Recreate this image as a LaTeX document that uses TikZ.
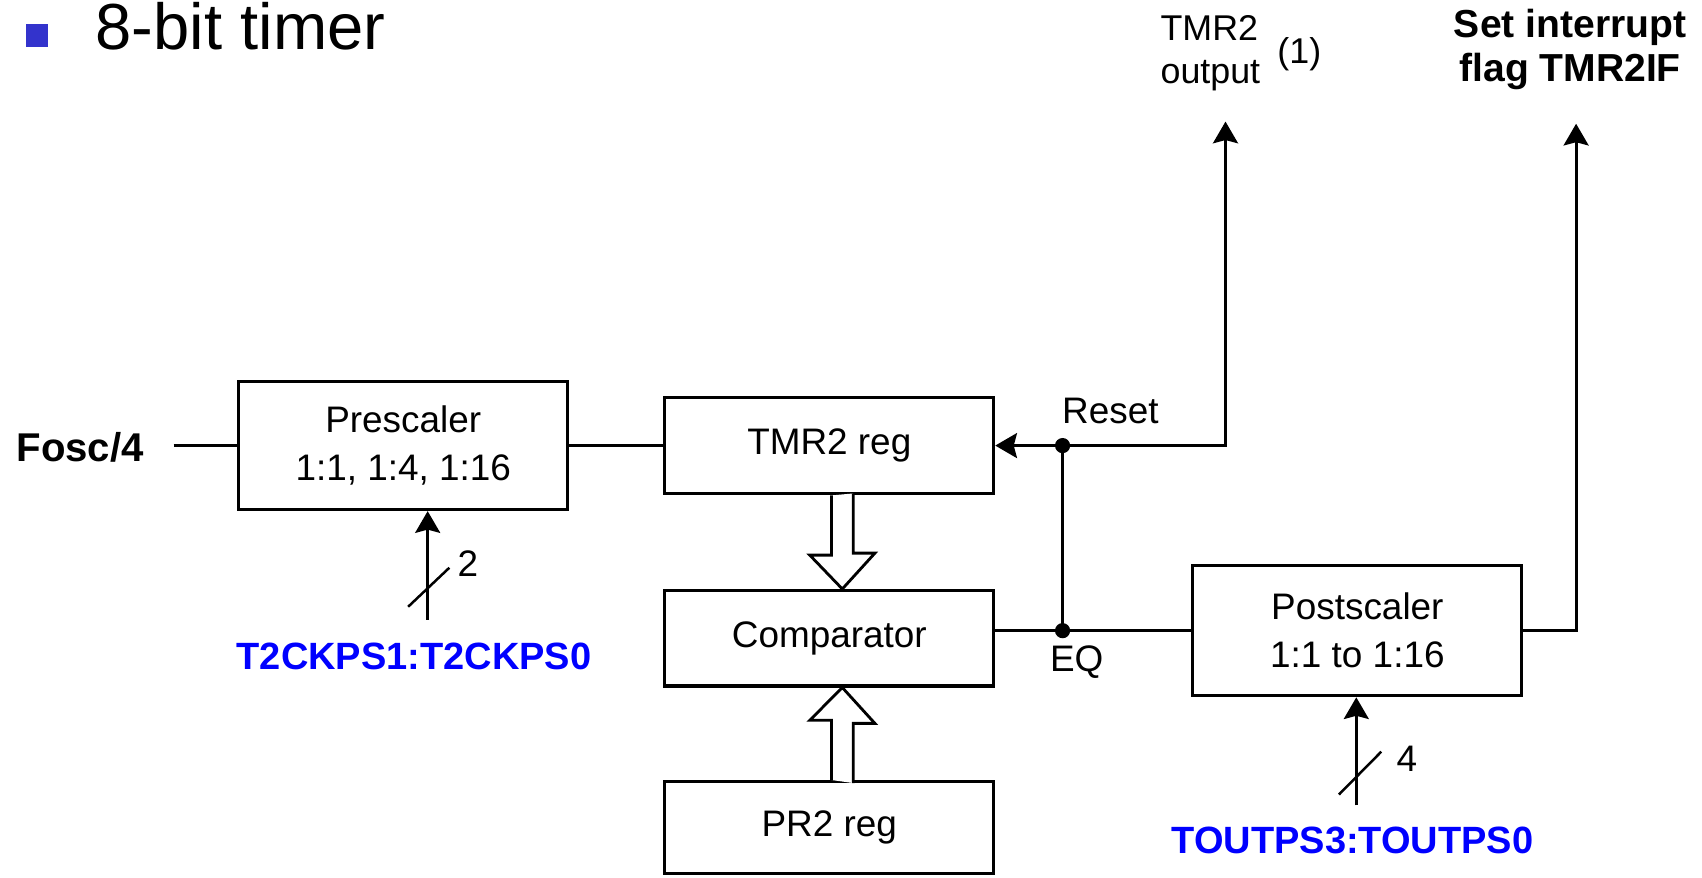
\documentclass[tikz,border=0pt]{standalone}
\usepackage{fontspec}
\setmainfont{Liberation Sans}
\usetikzlibrary{arrows.meta,calc}
\definecolor{bulletblue}{RGB}{51,51,204}
\definecolor{sigblue}{RGB}{0,0,255}
\tikzset{
 blk/.style={draw, line width=2.8pt, minimum width=303pt, inner sep=0pt, align=center, font=\fontsize{34}{44}\selectfont},
 wire/.style={line width=2.6pt},
 arr/.style={wire, -{Stealth[width=23pt,length=20pt,inset=3pt]}},
 busslash/.style={line width=2.3pt},
 lbl/.style={inner sep=0pt, font=\fontsize{34}{40}\selectfont},
 smalllbl/.style={inner sep=0pt, font=\fontsize{33}{38}\selectfont},
 boldlbl/.style={inner sep=0pt, font=\bfseries\fontsize{37}{42}\selectfont},
 irqlbl/.style={inner sep=0pt, font=\bfseries\fontsize{36}{40}\selectfont},
 siglbl/.style={inner sep=0pt, text=sigblue, font=\bfseries\fontsize{35}{40}\selectfont},
 jdot/.style={circle, fill, inner sep=0pt, minimum size=14pt},
 hollow/.style={draw, line width=2.6pt, fill=white, line join=miter},
}
\begin{document}
\begin{tikzpicture}[x=1pt,y=-1pt]
\useasboundingbox (0,0) rectangle (1568,808);
% title
\fill[bulletblue] (24,22) rectangle (44,43);
\node[anchor=base west, inner sep=0pt, font=\fontsize{60}{64}\selectfont] (title) at (88,46) {8-bit timer};
% blocks
\node[blk, minimum height=118pt] (pre) at (371.5,410.5) {Prescaler\\1:1, 1:4, 1:16};
\node[blk, minimum height=89pt] (tmr) at (764,410.5) {TMR2 reg};
\node[blk, minimum height=88pt] (cmp) at (764,588) {Comparator};
\node[blk, minimum height=85pt] (pr) at (764,762.5) {PR2 reg};
\node[blk, minimum height=120pt] (post) at (1250.5,581) {Postscaler\\1:1 to 1:16};
% labels
\node[boldlbl, anchor=west] (fosc) at (15,412) {Fosc/4};
\coordinate (foscend) at (160,410.5);
\node[lbl] (reset) at (1023,378.5) {Reset};
\node[lbl] (eq) at (992,610) {EQ};
\node[smalllbl, anchor=base west] (tmrout1) at (1069,37.5) {TMR2};
\node[smalllbl, anchor=base west] (tmrout2) at (1069,77) {output};
\node[smalllbl] (note) at (1197,50) {(1)};
\node[irqlbl, anchor=base] (irq1) at (1446.5,35) {Set interrupt};
\node[irqlbl, anchor=base] (irq2) at (1446.5,75) {flag TMR2IF};
\node[siglbl] (t2ck) at (381.5,605) {T2CKPS1:T2CKPS0};
\node[siglbl] (tout) at (1246,774) {TOUTPS3:TOUTPS0};
\node[lbl] (n2) at (431,519) {2};
\node[lbl] (n4) at (1296,699) {4};
% coordinates
\path (tmr.east) ++(62,0) coordinate (jr);
\coordinate (je) at (jr |- post.west);
\coordinate (out1) at (1129,112);
\coordinate (out2) at (1452,114);
\coordinate (psin) at (394,571);
\coordinate (poin) at (1249.5,742);
% wires
\draw[wire] (foscend) -- (pre.west);
\draw[wire] (pre.east) -- (tmr.west);
\draw[arr] (jr) -- (tmr.east);
\draw[arr] (jr) -- (jr -| out1) -- (out1);
\draw[wire] (jr) -- (je);
\draw[wire] (cmp.east |- post.west) -- (post.west);
\draw[arr] (post.east) -- (post.east -| out2) -- (out2);
\node[jdot] (jrdot) at (jr) {};
\node[jdot] (jedot) at (je) {};
% select inputs
\draw[arr] (psin) -- (psin |- pre.south);
\draw[busslash] ($(psin)+(-18,-12)$) -- ($(psin)+(20,-48)$);
\draw[arr] (poin) -- (poin |- post.south);
\draw[busslash] ($(poin)+(-16,-10)$) -- ($(poin)+(23,-49.5)$);
% hollow bus arrows
\draw[hollow] ([xshift=2pt]tmr.south) -- ++(0,55) -- ++(-20,0) -- ([xshift=12pt]cmp.north) -- ++(30,-33) -- ++(-20,0) -- ++(0,-55);
\draw[hollow] ([xshift=2pt]pr.north) -- ++(0,-55) -- ++(-20,0) -- ([xshift=12pt]cmp.south) -- ++(30,33) -- ++(-20,0) -- ++(0,55);
\end{tikzpicture}
\end{document}
